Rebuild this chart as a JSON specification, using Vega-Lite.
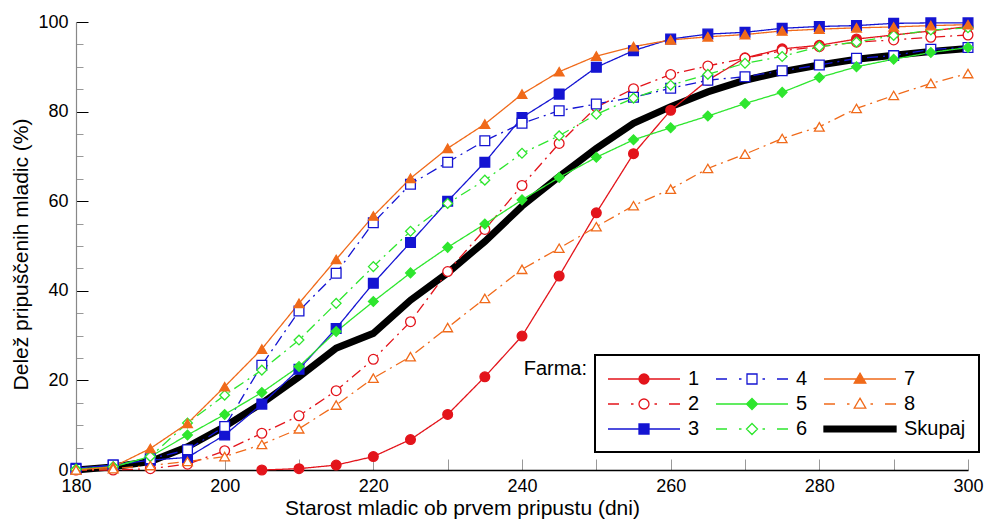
{
  "$schema": "https://vega.github.io/schema/vega-lite/v6.json",
  "width": 892,
  "height": 448,
  "autosize": {"type": "none"},
  "padding": {"left": 76, "top": 22, "right": 20, "bottom": 49},
  "config": {"view": {"stroke": null}, "font": "Liberation Sans", "legend": {"strokeWidth": 2}},
  "datasets": {
    "d": [
      {"farma": "1", "dni": 205, "delez": 0}, {"farma": "1", "dni": 210, "delez": 0.3}, {"farma": "1", "dni": 215, "delez": 1.1}, {"farma": "1", "dni": 220, "delez": 3}, {"farma": "1", "dni": 225, "delez": 6.8}, {"farma": "1", "dni": 230, "delez": 12.4}, {"farma": "1", "dni": 235, "delez": 20.8}, {"farma": "1", "dni": 240, "delez": 29.9}, {"farma": "1", "dni": 245, "delez": 43.3}, {"farma": "1", "dni": 250, "delez": 57.4}, {"farma": "1", "dni": 255, "delez": 70.6}, {"farma": "1", "dni": 260, "delez": 80.3}, {"farma": "1", "dni": 265, "delez": 87}, {"farma": "1", "dni": 270, "delez": 92}, {"farma": "1", "dni": 275, "delez": 94}, {"farma": "1", "dni": 280, "delez": 94.8}, {"farma": "1", "dni": 285, "delez": 96.2}, {"farma": "1", "dni": 290, "delez": 97.1}, {"farma": "1", "dni": 295, "delez": 98}, {"farma": "1", "dni": 300, "delez": 99},
      {"farma": "2", "dni": 180, "delez": 0}, {"farma": "2", "dni": 185, "delez": 0}, {"farma": "2", "dni": 190, "delez": 0.3}, {"farma": "2", "dni": 195, "delez": 1.3}, {"farma": "2", "dni": 200, "delez": 4.3}, {"farma": "2", "dni": 205, "delez": 8.2}, {"farma": "2", "dni": 210, "delez": 12.1}, {"farma": "2", "dni": 215, "delez": 17.7}, {"farma": "2", "dni": 220, "delez": 24.7}, {"farma": "2", "dni": 225, "delez": 33.1}, {"farma": "2", "dni": 230, "delez": 44.3}, {"farma": "2", "dni": 235, "delez": 53.7}, {"farma": "2", "dni": 240, "delez": 63.5}, {"farma": "2", "dni": 245, "delez": 72.9}, {"farma": "2", "dni": 250, "delez": 81}, {"farma": "2", "dni": 255, "delez": 85.1}, {"farma": "2", "dni": 260, "delez": 88.3}, {"farma": "2", "dni": 265, "delez": 90.2}, {"farma": "2", "dni": 270, "delez": 91.9}, {"farma": "2", "dni": 275, "delez": 93.6}, {"farma": "2", "dni": 280, "delez": 94.5}, {"farma": "2", "dni": 285, "delez": 95.5}, {"farma": "2", "dni": 290, "delez": 96}, {"farma": "2", "dni": 295, "delez": 96.6}, {"farma": "2", "dni": 300, "delez": 97.1},
      {"farma": "3", "dni": 180, "delez": 0.4}, {"farma": "3", "dni": 185, "delez": 1.1}, {"farma": "3", "dni": 190, "delez": 2.2}, {"farma": "3", "dni": 195, "delez": 2.8}, {"farma": "3", "dni": 200, "delez": 7.8}, {"farma": "3", "dni": 205, "delez": 14.7}, {"farma": "3", "dni": 210, "delez": 22.5}, {"farma": "3", "dni": 215, "delez": 31.6}, {"farma": "3", "dni": 220, "delez": 41.7}, {"farma": "3", "dni": 225, "delez": 50.8}, {"farma": "3", "dni": 230, "delez": 60}, {"farma": "3", "dni": 235, "delez": 68.7}, {"farma": "3", "dni": 240, "delez": 78.7}, {"farma": "3", "dni": 245, "delez": 83.9}, {"farma": "3", "dni": 250, "delez": 89.9}, {"farma": "3", "dni": 255, "delez": 93.6}, {"farma": "3", "dni": 260, "delez": 96.2}, {"farma": "3", "dni": 265, "delez": 97.3}, {"farma": "3", "dni": 270, "delez": 97.7}, {"farma": "3", "dni": 275, "delez": 98.6}, {"farma": "3", "dni": 280, "delez": 99}, {"farma": "3", "dni": 285, "delez": 99.2}, {"farma": "3", "dni": 290, "delez": 99.7}, {"farma": "3", "dni": 295, "delez": 99.8}, {"farma": "3", "dni": 300, "delez": 99.8},
      {"farma": "4", "dni": 180, "delez": 0.2}, {"farma": "4", "dni": 185, "delez": 1.1}, {"farma": "4", "dni": 190, "delez": 2.5}, {"farma": "4", "dni": 195, "delez": 4.5}, {"farma": "4", "dni": 200, "delez": 9.7}, {"farma": "4", "dni": 205, "delez": 23.4}, {"farma": "4", "dni": 210, "delez": 35.5}, {"farma": "4", "dni": 215, "delez": 43.9}, {"farma": "4", "dni": 220, "delez": 55.2}, {"farma": "4", "dni": 225, "delez": 63.8}, {"farma": "4", "dni": 230, "delez": 68.7}, {"farma": "4", "dni": 235, "delez": 73.5}, {"farma": "4", "dni": 240, "delez": 77.4}, {"farma": "4", "dni": 245, "delez": 80.2}, {"farma": "4", "dni": 250, "delez": 81.7}, {"farma": "4", "dni": 255, "delez": 83.2}, {"farma": "4", "dni": 260, "delez": 85.2}, {"farma": "4", "dni": 265, "delez": 87}, {"farma": "4", "dni": 270, "delez": 87.8}, {"farma": "4", "dni": 275, "delez": 89.1}, {"farma": "4", "dni": 280, "delez": 90.4}, {"farma": "4", "dni": 285, "delez": 91.9}, {"farma": "4", "dni": 290, "delez": 92.5}, {"farma": "4", "dni": 295, "delez": 93.9}, {"farma": "4", "dni": 300, "delez": 94.3},
      {"farma": "5", "dni": 180, "delez": 0.2}, {"farma": "5", "dni": 185, "delez": 0.7}, {"farma": "5", "dni": 190, "delez": 3}, {"farma": "5", "dni": 195, "delez": 7.8}, {"farma": "5", "dni": 200, "delez": 12.4}, {"farma": "5", "dni": 205, "delez": 17.3}, {"farma": "5", "dni": 210, "delez": 23.1}, {"farma": "5", "dni": 215, "delez": 30.9}, {"farma": "5", "dni": 220, "delez": 37.6}, {"farma": "5", "dni": 225, "delez": 44}, {"farma": "5", "dni": 230, "delez": 49.7}, {"farma": "5", "dni": 235, "delez": 54.9}, {"farma": "5", "dni": 240, "delez": 60.3}, {"farma": "5", "dni": 245, "delez": 65.3}, {"farma": "5", "dni": 250, "delez": 69.8}, {"farma": "5", "dni": 255, "delez": 73.7}, {"farma": "5", "dni": 260, "delez": 76.4}, {"farma": "5", "dni": 265, "delez": 79}, {"farma": "5", "dni": 270, "delez": 81.8}, {"farma": "5", "dni": 275, "delez": 84.3}, {"farma": "5", "dni": 280, "delez": 87.6}, {"farma": "5", "dni": 285, "delez": 90}, {"farma": "5", "dni": 290, "delez": 91.7}, {"farma": "5", "dni": 295, "delez": 93.2}, {"farma": "5", "dni": 300, "delez": 94.3},
      {"farma": "6", "dni": 180, "delez": 0.1}, {"farma": "6", "dni": 185, "delez": 0.7}, {"farma": "6", "dni": 190, "delez": 3}, {"farma": "6", "dni": 195, "delez": 10.5}, {"farma": "6", "dni": 200, "delez": 16.7}, {"farma": "6", "dni": 205, "delez": 22.3}, {"farma": "6", "dni": 210, "delez": 29}, {"farma": "6", "dni": 215, "delez": 37.2}, {"farma": "6", "dni": 220, "delez": 45.4}, {"farma": "6", "dni": 225, "delez": 53.3}, {"farma": "6", "dni": 230, "delez": 59.5}, {"farma": "6", "dni": 235, "delez": 64.7}, {"farma": "6", "dni": 240, "delez": 70.7}, {"farma": "6", "dni": 245, "delez": 74.6}, {"farma": "6", "dni": 250, "delez": 79.4}, {"farma": "6", "dni": 255, "delez": 83}, {"farma": "6", "dni": 260, "delez": 85.9}, {"farma": "6", "dni": 265, "delez": 88.3}, {"farma": "6", "dni": 270, "delez": 90.8}, {"farma": "6", "dni": 275, "delez": 92.3}, {"farma": "6", "dni": 280, "delez": 94.5}, {"farma": "6", "dni": 285, "delez": 95.5}, {"farma": "6", "dni": 290, "delez": 97}, {"farma": "6", "dni": 295, "delez": 98.2}, {"farma": "6", "dni": 300, "delez": 98.7},
      {"farma": "7", "dni": 180, "delez": 0}, {"farma": "7", "dni": 185, "delez": 0.7}, {"farma": "7", "dni": 190, "delez": 4.8}, {"farma": "7", "dni": 195, "delez": 10.4}, {"farma": "7", "dni": 200, "delez": 18.6}, {"farma": "7", "dni": 205, "delez": 27}, {"farma": "7", "dni": 210, "delez": 37.2}, {"farma": "7", "dni": 215, "delez": 47}, {"farma": "7", "dni": 220, "delez": 56.7}, {"farma": "7", "dni": 225, "delez": 65.1}, {"farma": "7", "dni": 230, "delez": 71.8}, {"farma": "7", "dni": 235, "delez": 77.2}, {"farma": "7", "dni": 240, "delez": 83.9}, {"farma": "7", "dni": 245, "delez": 88.9}, {"farma": "7", "dni": 250, "delez": 92.4}, {"farma": "7", "dni": 255, "delez": 94.5}, {"farma": "7", "dni": 260, "delez": 96}, {"farma": "7", "dni": 265, "delez": 96.7}, {"farma": "7", "dni": 270, "delez": 97.2}, {"farma": "7", "dni": 275, "delez": 98}, {"farma": "7", "dni": 280, "delez": 98.4}, {"farma": "7", "dni": 285, "delez": 98.7}, {"farma": "7", "dni": 290, "delez": 98.9}, {"farma": "7", "dni": 295, "delez": 99.2}, {"farma": "7", "dni": 300, "delez": 99.4},
      {"farma": "8", "dni": 180, "delez": 0}, {"farma": "8", "dni": 185, "delez": 0.3}, {"farma": "8", "dni": 190, "delez": 1}, {"farma": "8", "dni": 195, "delez": 1.9}, {"farma": "8", "dni": 200, "delez": 3}, {"farma": "8", "dni": 205, "delez": 5.7}, {"farma": "8", "dni": 210, "delez": 9.2}, {"farma": "8", "dni": 215, "delez": 14.5}, {"farma": "8", "dni": 220, "delez": 20.5}, {"farma": "8", "dni": 225, "delez": 25.3}, {"farma": "8", "dni": 230, "delez": 31.8}, {"farma": "8", "dni": 235, "delez": 38.3}, {"farma": "8", "dni": 240, "delez": 44.8}, {"farma": "8", "dni": 245, "delez": 49.5}, {"farma": "8", "dni": 250, "delez": 54.3}, {"farma": "8", "dni": 255, "delez": 59}, {"farma": "8", "dni": 260, "delez": 62.7}, {"farma": "8", "dni": 265, "delez": 67.3}, {"farma": "8", "dni": 270, "delez": 70.5}, {"farma": "8", "dni": 275, "delez": 74}, {"farma": "8", "dni": 280, "delez": 76.6}, {"farma": "8", "dni": 285, "delez": 80.7}, {"farma": "8", "dni": 290, "delez": 83.6}, {"farma": "8", "dni": 295, "delez": 86.3}, {"farma": "8", "dni": 300, "delez": 88.5},
      {"farma": "Skupaj", "dni": 180, "delez": 0}, {"farma": "Skupaj", "dni": 185, "delez": 0.7}, {"farma": "Skupaj", "dni": 190, "delez": 1.9}, {"farma": "Skupaj", "dni": 195, "delez": 5.2}, {"farma": "Skupaj", "dni": 200, "delez": 9.7}, {"farma": "Skupaj", "dni": 205, "delez": 14.9}, {"farma": "Skupaj", "dni": 210, "delez": 20.8}, {"farma": "Skupaj", "dni": 215, "delez": 27.2}, {"farma": "Skupaj", "dni": 220, "delez": 30.5}, {"farma": "Skupaj", "dni": 225, "delez": 37.9}, {"farma": "Skupaj", "dni": 230, "delez": 44}, {"farma": "Skupaj", "dni": 235, "delez": 51}, {"farma": "Skupaj", "dni": 240, "delez": 58.9}, {"farma": "Skupaj", "dni": 245, "delez": 65.5}, {"farma": "Skupaj", "dni": 250, "delez": 71.8}, {"farma": "Skupaj", "dni": 255, "delez": 77.4}, {"farma": "Skupaj", "dni": 260, "delez": 81.1}, {"farma": "Skupaj", "dni": 265, "delez": 84.4}, {"farma": "Skupaj", "dni": 270, "delez": 87}, {"farma": "Skupaj", "dni": 275, "delez": 88.9}, {"farma": "Skupaj", "dni": 280, "delez": 90.4}, {"farma": "Skupaj", "dni": 285, "delez": 91.7}, {"farma": "Skupaj", "dni": 290, "delez": 92.6}, {"farma": "Skupaj", "dni": 295, "delez": 93.4}, {"farma": "Skupaj", "dni": 300, "delez": 94.1}
    ]
  },
  "data": {"name": "d"},
  "encoding": {
    "x": {
      "field": "dni", "type": "quantitative",
      "scale": {"domain": [180, 300], "nice": false, "zero": false},
      "axis": {
        "title": "Starost mladic ob prvem pripustu (dni)",
        "values": [180, 190, 200, 210, 220, 230, 240, 250, 260, 270, 280, 290, 300],
        "labelExpr": "datum.value % 20 == 0 ? datum.label : ''",
        "grid": false, "tickSize": -11, "tickColor": "#999999", "tickWidth": 1,
        "domainColor": "#000000", "domainWidth": 1.3,
        "labelFontSize": 18, "labelColor": "#000000", "labelPadding": 18, "labelFlush": false, "labelOverlap": false,
        "titleFontSize": 21, "titleFontWeight": "normal", "titleColor": "#000000",
        "titleX": 386, "titleY": 44, "titleAlign": "center", "titleBaseline": "alphabetic"
      }
    },
    "y": {
      "field": "delez", "type": "quantitative",
      "scale": {"domain": [0, 100], "nice": false},
      "axis": {
        "title": "Delež pripuščenih mladic (%)",
        "values": [0, 5, 10, 15, 20, 25, 30, 35, 40, 45, 50, 55, 60, 65, 70, 75, 80, 85, 90, 95, 100],
        "labelExpr": "datum.value % 20 == 0 ? datum.label : ''",
        "grid": false,
        "tickSize": {"condition": {"test": "datum.value % 20 == 0", "value": -12}, "value": -7},
        "tickColor": {"condition": {"test": "datum.value % 20 == 0", "value": "#000000"}, "value": "#999999"},
        "domainColor": "#888888", "domainWidth": 1.2,
        "labelFontSize": 18, "labelColor": "#000000", "labelPadding": 20, "labelFlush": false, "labelOverlap": false,
        "titleFontSize": 21, "titleFontWeight": "normal", "titleColor": "#000000",
        "titleX": -55, "titleY": 232, "titleAlign": "center", "titleBaseline": "middle"
      }
    }
  },
  "layer": [
    {
      "transform": [{"filter": "datum.farma == 'Skupaj'"}],
      "mark": {"type": "line", "color": "#000000", "strokeWidth": 7}
    },
    {
      "transform": [{"filter": "datum.farma != 'Skupaj'"}],
      "mark": {"type": "line", "strokeWidth": 1.3},
      "encoding": {
        "color": {
          "field": "farma", "type": "nominal",
          "scale": {"domain": ["1", "2", "3", "4", "5", "6", "7", "8"], "range": ["#e3141b", "#e3141b", "#1414d2", "#1414d2", "#2ee62e", "#2ee62e", "#f06a1a", "#f06a1a"]},
          "legend": null
        },
        "strokeDash": {
          "field": "farma", "type": "nominal",
          "scale": {"domain": ["1", "2", "3", "4", "5", "6", "7", "8"], "range": [[1, 0], [11, 5, 2, 5], [1, 0], [11, 5, 2, 5], [1, 0], [11, 5, 2, 5], [1, 0], [11, 5, 2, 5]]},
          "legend": null
        }
      }
    },
    {
      "transform": [{"filter": "datum.farma != 'Skupaj'"}],
      "mark": {"type": "point", "size": 95, "strokeWidth": 1.3, "opacity": 1, "filled": true},
      "encoding": {
        "shape": {
          "field": "farma", "type": "nominal",
          "scale": {"domain": ["1", "2", "3", "4", "5", "6", "7", "8"], "range": ["circle", "circle", "square", "square", "diamond", "diamond", "triangle-up", "triangle-up"]},
          "legend": null
        },
        "fill": {
          "field": "farma", "type": "nominal",
          "scale": {"domain": ["1", "2", "3", "4", "5", "6", "7", "8"], "range": ["#e3141b", "#ffffff", "#1414d2", "#ffffff", "#2ee62e", "#ffffff", "#f06a1a", "#ffffff"]},
          "legend": null
        },
        "stroke": {
          "field": "farma", "type": "nominal",
          "scale": {"domain": ["1", "2", "3", "4", "5", "6", "7", "8"], "range": ["#e3141b", "#e3141b", "#1414d2", "#1414d2", "#2ee62e", "#2ee62e", "#f06a1a", "#f06a1a"]},
          "legend": null
        }
      }
    },
    {
      "mark": {"type": "point", "size": 400, "strokeWidth": 1.3, "opacity": 0, "filled": true},
      "encoding": {
        "shape": {
          "field": "farma", "type": "nominal",
          "scale": {"domain": ["1", "2", "3", "4", "5", "6", "7", "8", "Skupaj"], "range": [
            "M-3.6,0L3.6,0M0.5,0A0.5,0.5,0,1,1,-0.5,0A0.5,0.5,0,1,1,0.5,0Z",
            "M-3.6,0L-2.5,0M-1.3,0L-1.05,0M1.05,0L1.3,0M2.5,0L3.6,0M0.5,0A0.5,0.5,0,1,1,-0.5,0A0.5,0.5,0,1,1,0.5,0Z",
            "M-3.6,0L3.6,0M-0.5,-0.5L0.5,-0.5L0.5,0.5L-0.5,0.5Z",
            "M-3.6,0L-2.5,0M-1.3,0L-1.05,0M1.05,0L1.3,0M2.5,0L3.6,0M-0.5,-0.5L0.5,-0.5L0.5,0.5L-0.5,0.5Z",
            "M-3.6,0L3.6,0M0,-0.55L0.55,0L0,0.55L-0.55,0Z",
            "M-3.6,0L-2.5,0M-1.3,0L-1.05,0M1.05,0L1.3,0M2.5,0L3.6,0M0,-0.55L0.55,0L0,0.55L-0.55,0Z",
            "M-3.6,0L3.6,0M0,-0.58L0.58,0.42L-0.58,0.42Z",
            "M-3.6,0L-2.5,0M-1.3,0L-1.05,0M1.05,0L1.3,0M2.5,0L3.6,0M0,-0.58L0.58,0.42L-0.58,0.42Z",
            "M-3.6,-0.29L3.6,-0.29L3.6,0.29L-3.6,0.29Z"
          ]},
          "legend": {
            "orient": "none", "legendX": 519, "legendY": 333, "columns": 3, "title": null, "zindex": 2,
            "symbolSize": 400, "symbolStrokeWidth": 1.3, "symbolOpacity": 1, "symbolOffset": 25,
            "labelFontSize": 20, "labelFont": "Liberation Sans", "labelOffset": 33, "labelLimit": 300,
            "rowPadding": 4, "columnPadding": 13, "padding": 13,
            "strokeColor": "#000000", "fillColor": "#ffffff",
            "encode": {"labels": {"update": {"fill": {"signal": "datum.value=='1'||datum.value=='2'?'#e3141b':datum.value=='3'||datum.value=='4'?'#1414d2':datum.value=='5'||datum.value=='6'?'#2ee62e':datum.value=='7'||datum.value=='8'?'#f06a1a':'#000000'"}}}}
          }
        },
        "fill": {
          "field": "farma", "type": "nominal",
          "scale": {"domain": ["1", "2", "3", "4", "5", "6", "7", "8", "Skupaj"], "range": ["#e3141b", "#ffffff", "#1414d2", "#ffffff", "#2ee62e", "#ffffff", "#f06a1a", "#ffffff", "#000000"]},
          "legend": {"orient": "none", "legendX": 519, "legendY": 333, "columns": 3, "title": null, "zindex": 2, "symbolSize": 400, "symbolStrokeWidth": 1.3, "symbolOpacity": 1, "symbolOffset": 25, "labelFontSize": 20, "labelOffset": 33, "rowPadding": 4, "columnPadding": 13, "padding": 13, "strokeColor": "#000000", "fillColor": "#ffffff"}
        },
        "stroke": {
          "field": "farma", "type": "nominal",
          "scale": {"domain": ["1", "2", "3", "4", "5", "6", "7", "8", "Skupaj"], "range": ["#e3141b", "#e3141b", "#1414d2", "#1414d2", "#2ee62e", "#2ee62e", "#f06a1a", "#f06a1a", "#000000"]},
          "legend": {"orient": "none", "legendX": 519, "legendY": 333, "columns": 3, "title": null, "zindex": 2, "symbolSize": 400, "symbolStrokeWidth": 1.3, "symbolOpacity": 1, "symbolOffset": 25, "labelFontSize": 20, "labelOffset": 33, "rowPadding": 4, "columnPadding": 13, "padding": 13, "strokeColor": "#000000", "fillColor": "#ffffff"}
        }
      }
    },
    {
      "transform": [{"filter": "datum.farma == 'Skupaj' && datum.dni == 180"}],
      "mark": {"type": "text", "text": "Farma:", "fontSize": 20, "font": "Liberation Sans", "align": "right", "baseline": "alphabetic", "color": "#000000"},
      "encoding": {
        "x": {"datum": 248.75, "type": "quantitative"},
        "y": {"datum": 21.2, "type": "quantitative"}
      }
    }
  ],
  "resolve": {"scale": {"shape": "independent", "fill": "independent", "stroke": "independent"}}
}
